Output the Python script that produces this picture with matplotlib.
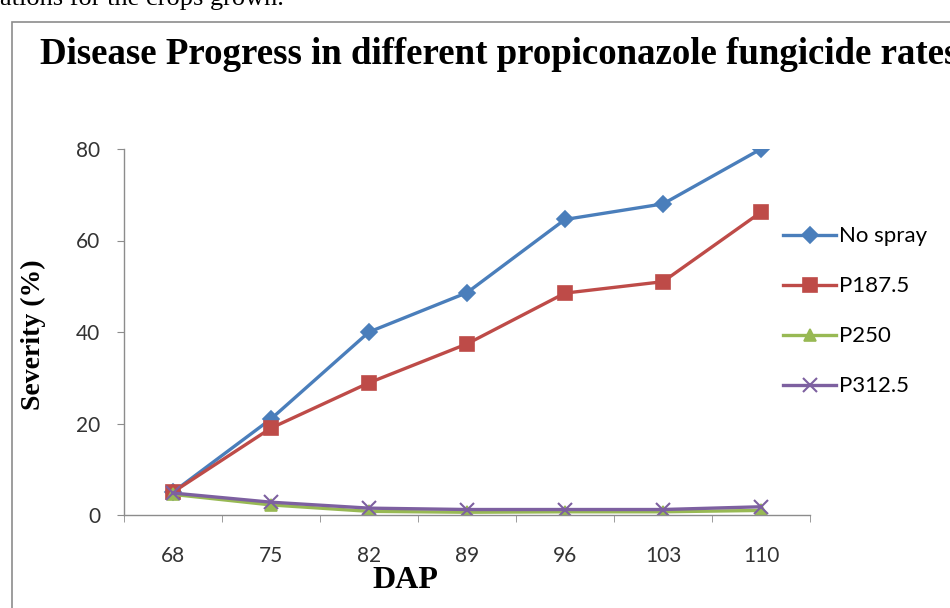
import matplotlib
matplotlib.use("Agg")
import matplotlib.pyplot as plt
from matplotlib.patches import Rectangle

# DAP categories and severity (%) per treatment
dap = ["68", "75", "82", "89", "96", "103", "110"]
no_spray = [5.0, 21.0, 40.0, 48.6, 64.6, 68.0, 80.0]
p187_5 = [5.0, 19.0, 28.9, 37.4, 48.5, 51.0, 66.2]
p250 = [4.5, 2.2, 0.8, 0.6, 0.7, 0.7, 1.0]
p312_5 = [4.8, 2.8, 1.5, 1.2, 1.2, 1.2, 1.8]

series = [
    ("No spray", no_spray, "#4A7EBB", "D", 8),
    ("P187.5", p187_5, "#BE4B48", "s", 10),
    ("P250", p250, "#98B954", "^", 9),
    ("P312.5", p312_5, "#7D60A0", "x", 10),
]

W, H = 950, 608
fig = plt.figure(figsize=(W / 100, H / 100), dpi=100)

# chart border (Excel chart area, cut by the image edges)
fig.patches.append(Rectangle((12 / W, -0.1), 1.2, 1.1 - 22 / H, transform=fig.transFigure,
                             fill=False, edgecolor="#8c8c8c", linewidth=1.2))

# body text line cut at top of the image
fig.text(0.0, 1 + 1 / H, "ations for the crops grown.", family="Liberation Serif",
         fontsize=19, ha="left", va="center")

fig.text(40 / W, 1 - 55 / H, "Disease Progress in different propiconazole fungicide rates",
         family="Liberation Serif", fontweight="bold", fontsize=26.6, ha="left", va="center")

ax = fig.add_axes([124 / W, 1 - 515 / H, 686 / W, 366 / H])
x = range(len(dap))
for name, vals, col, mk, ms in series:
    ax.plot(x, vals, color=col, linewidth=2.4, marker=mk, markersize=ms,
            markeredgewidth=1.2 if mk != "x" else 1.5, label=name)

ax.set_xlim(-0.5, len(dap) - 0.5)
ax.set_ylim(0, 80)
ax.set_yticks([0, 20, 40, 60, 80])
ax.set_xticks(list(x))
ax.set_xticklabels(dap)
ax.set_xticks([i - 0.5 for i in range(len(dap) + 1)], minor=True)
ax.tick_params(axis="x", which="major", length=0, pad=22, labelsize=15, colors="#333333")
ax.tick_params(axis="x", which="minor", length=5, color="#8c8c8c", direction="out")
ax.tick_params(axis="y", length=5, color="#8c8c8c", direction="out", pad=12, labelsize=15,
               labelcolor="#333333")
for lab in ax.get_xticklabels() + ax.get_yticklabels():
    lab.set_family("Lato")

for s in ["top", "right"]:
    ax.spines[s].set_visible(False)
for s in ["left", "bottom"]:
    ax.spines[s].set_color("#8c8c8c")
    ax.spines[s].set_linewidth(1.0)

fig.text(405 / W, 1 - 581 / H, "DAP", family="Liberation Serif", fontweight="bold",
         fontsize=23, ha="center", va="center")
fig.text(33 / W, 1 - 335 / H, "Severity (%)", family="Liberation Serif", fontweight="bold",
         fontsize=20, ha="center", va="center", rotation=90)

leg = ax.legend(loc="center left", bbox_to_anchor=((783 - 124) / 686, (515 - 311.5) / 366),
                frameon=False, prop={"family": "Lato", "size": 16}, labelspacing=1.35,
                handlelength=2.4, handletextpad=0.1, borderaxespad=0, borderpad=0)

fig.savefig("out.png", dpi=100)
